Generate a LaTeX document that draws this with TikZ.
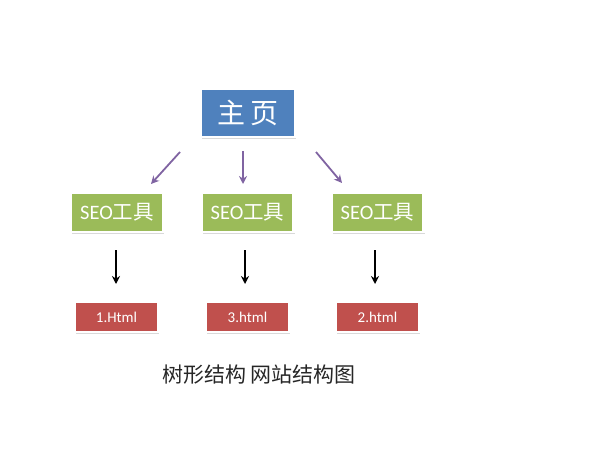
\documentclass[tikz,border=0pt]{standalone}
\usepackage{fontspec}
\setmainfont{Carlito}
\newfontfamily\cjk{Noto Sans CJK SC}
\usetikzlibrary{shadows,arrows.meta}
\definecolor{homeblue}{HTML}{4F81BD}
\definecolor{toolgreen}{HTML}{9BBB59}
\definecolor{pagered}{HTML}{C0504D}
\definecolor{linkpurple}{HTML}{8064A2}
\tikzset{
	box/.style 2 args={fill=#1,draw=white,line width=2.5pt,text=white,minimum width=#2,inner sep=0pt,
		drop shadow={opacity=0.3,shadow xshift=1pt,shadow yshift=-1.8pt}},
	home/.style={box={homeblue}{94pt},minimum height=48pt,font=\cjk\fontsize{28}{28}\selectfont},
	tool/.style={box={toolgreen}{92pt},minimum height=39pt,font=\fontsize{20.5}{20}\selectfont},
	page/.style={box={pagered}{83pt},minimum height=30pt,font=\fontsize{15}{15}\selectfont},
	plink/.style={draw=linkpurple,line width=1.8pt,-{Stealth[length=8pt,width=8pt]}},
	blink/.style={draw=black,line width=1.8pt,-{Stealth[length=8pt,width=8pt]}}
}
\begin{document}
\begin{tikzpicture}[x=1pt,y=-1pt]
	\useasboundingbox (0,0) rectangle (594,473);
	\node [home] (home) at (248,113) {主\,页};
	\node [tool] (t1) at (117,212.5) {SEO{\cjk 工具}};
	\node [tool] (t2) at (247.5,212.5) {SEO{\cjk 工具}};
	\node [tool] (t3) at (377.5,212.5) {SEO{\cjk 工具}};
	\node [page] (p1) at (116.5,317) {1.Html};
	\node [page] (p2) at (247.5,317) {3.html};
	\node [page] (p3) at (377.5,317) {2.html};
	\node [font=\cjk\fontsize{21}{21}\selectfont,text=black!85] (cap) at (259,375) {树形结构 网站结构图};

	\coordinate (a1) at (180,152);
	\coordinate (b1) at (151,184);
	\coordinate (a2) at (243,151);
	\coordinate (b2) at (243,184);
	\coordinate (a3) at (316,152);
	\coordinate (b3) at (342,183);
	\draw [plink] (a1) -- (b1);
	\draw [plink] (a2) -- (b2);
	\draw [plink] (a3) -- (b3);

	\coordinate (c1) at (116,250);
	\coordinate (d1) at (116,284);
	\coordinate (c2) at (245,250);
	\coordinate (d2) at (245,284);
	\coordinate (c3) at (375,250);
	\coordinate (d3) at (375,284);
	\draw [blink] (c1) -- (d1);
	\draw [blink] (c2) -- (d2);
	\draw [blink] (c3) -- (d3);
\end{tikzpicture}
\end{document}
